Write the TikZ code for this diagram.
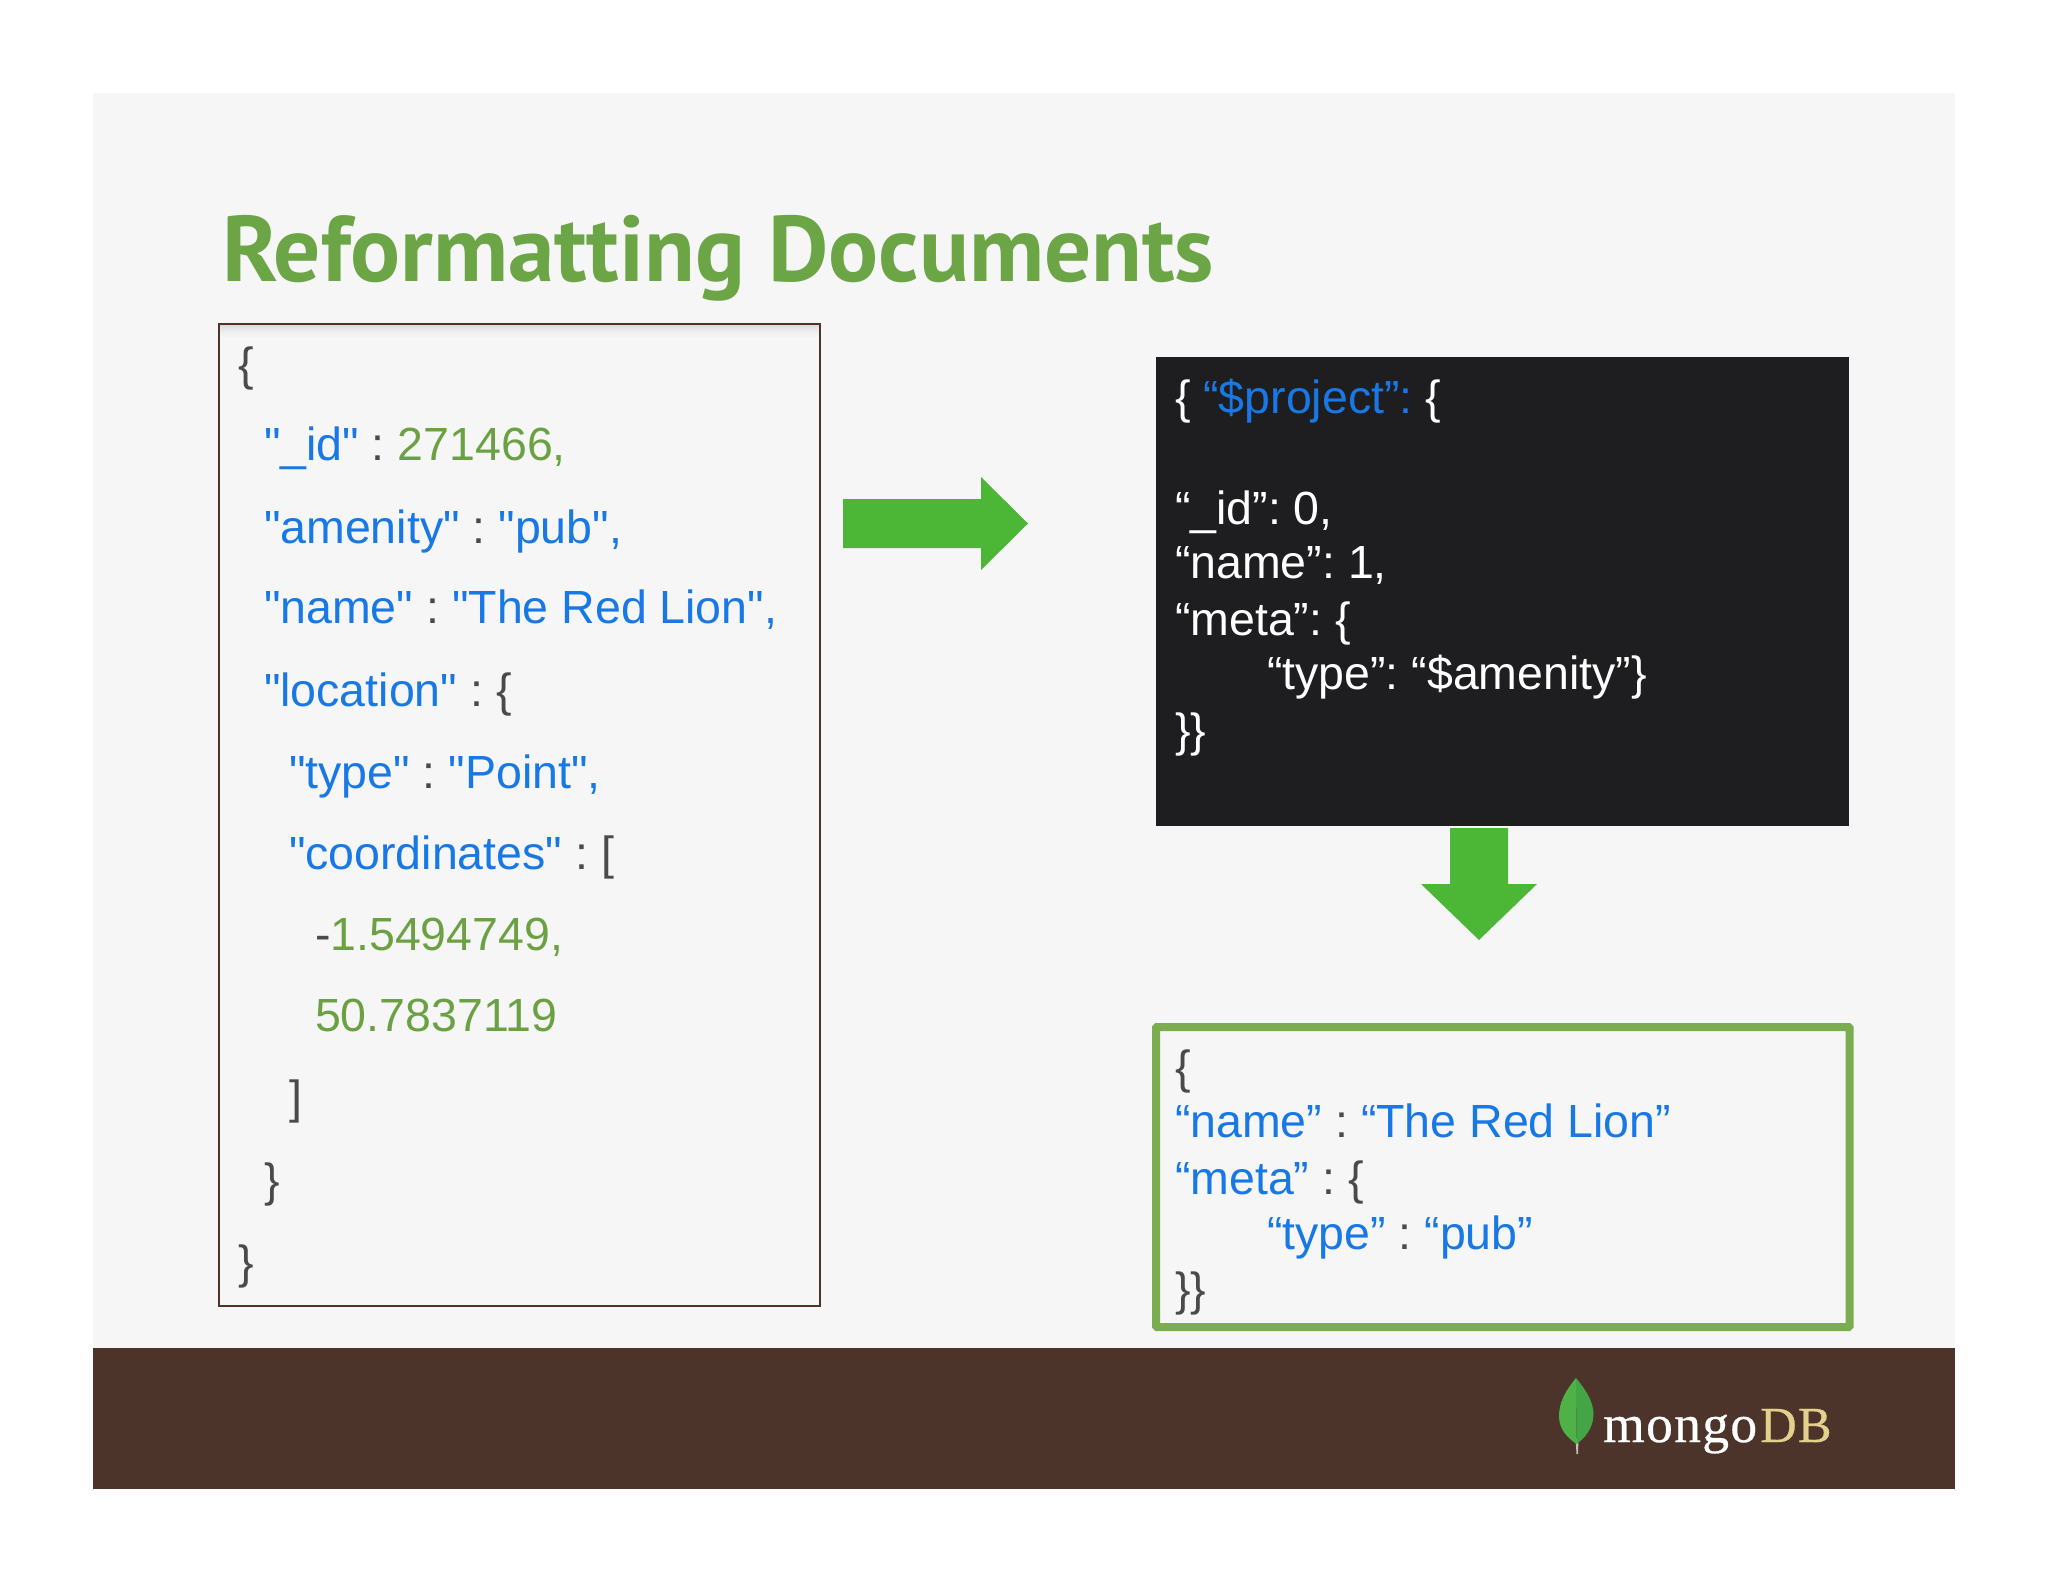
\documentclass[tikz,border=0pt]{standalone}
\usepackage{fontspec}
\setmainfont[Ligatures=TeXOff]{Liberation Sans}
\newfontfamily\titlefont{PT Sans}
\newfontfamily\logofont[LetterSpace=2.5,FakeBold=0.5]{Liberation Serif}
\definecolor{slidebg}{HTML}{F6F6F7}
\definecolor{footbrown}{HTML}{4C342A}
\definecolor{kblue}{HTML}{1878E6}
\definecolor{kgreen}{HTML}{6BA143}
\definecolor{kgray}{HTML}{4A4A4D}
\definecolor{arrowgreen}{HTML}{4CB636}
\definecolor{blackbox}{HTML}{1E1E20}
\definecolor{titlegreen}{HTML}{6CA545}
\definecolor{greenframe}{HTML}{7BAD50}
\definecolor{dbtan}{HTML}{E3D08C}
\definecolor{leafl}{HTML}{4FB248}
\definecolor{leafd}{HTML}{43A546}
\definecolor{stem}{HTML}{C9C2B0}
\newcommand{\kb}[1]{\textcolor{kblue}{#1}}
\newcommand{\kg}[1]{\textcolor{kgreen}{#1}}
\tikzset{
  codeline/.style={anchor=base west,inner sep=0pt,outer sep=0pt,font=\fontsize{46.5}{50}\selectfont\frenchspacing,text=kgray},
  whiteline/.style={codeline,text=white},
  bigarrow/.style={fill=arrowgreen,draw=none}
}
\begin{document}
\begin{tikzpicture}[x=1pt,y=-1pt]
\useasboundingbox (0,0) rectangle (2048,1582);
\fill[white] (0,0) rectangle (2048,1582);
\fill[slidebg] (93,93) rectangle (1955,1348);
\fill[footbrown] (93,1348) rectangle (1955,1489);
\node[anchor=base west,inner sep=0pt,text=titlegreen,font=\titlefont\bfseries\fontsize{93.2}{100}\selectfont] (title) at (222,281) {Reformatting Documents};
% left box
\foreach \i/\o in {1/.10,2/.07,3/.05,4/.03,5/.02,6/.01}{
  \fill[black,opacity=\o] (219,325+\i*2-2) rectangle (820,325+\i*2);
}
\draw[draw=footbrown,line width=2pt] (219,324) rectangle (820,1306);
\node[codeline] (l1) at (238,380) {\{};
\node[codeline] (l2) at (264,460) {\kb{"\_id"} : \kg{271466,}};
\node[codeline] (l3) at (264,543) {\kb{"amenity"} : \kb{"pub",}};
\node[codeline] (l4) at (264,623) {\kb{"name"} : \kb{"The Red Lion",}};
\node[codeline] (l5) at (264,706) {\kb{"location"} : \{};
\node[codeline] (l6) at (289,788) {\kb{"type"} : \kb{"Point",}};
\node[codeline] (l7) at (289,869) {\kb{"coordinates"} : [};
\node[codeline] (l8) at (315,950) {-\kg{1.5494749,}};
\node[codeline] (l9) at (315,1031) {\kg{50.7837119}};
\node[codeline] (l10) at (289,1113) {]};
\node[codeline] (l11) at (264,1196) {\}};
\node[codeline] (l12) at (238,1278) {\}};
% arrows
\fill[bigarrow] (843,499) -- (981,499) -- (981,477) -- (1028,523.5) -- (981,570) -- (981,548) -- (843,548) -- cycle;
\fill[blackbox] (1156,357) rectangle (1849,826);
\fill[bigarrow] (1450,828) -- (1508,828) -- (1508,884) -- (1537,884) -- (1479,940) -- (1421,884) -- (1450,884) -- cycle;
% black box text
\node[whiteline] (b1) at (1175,413) {\{ \kb{“\$project”:} \{};
\node[whiteline] (b2) at (1175,524) {“\_id”: 0,};
\node[whiteline] (b3) at (1175,578) {“name”: 1,};
\node[whiteline] (b4) at (1175,635) {“meta”: \{};
\node[whiteline] (b5) at (1267,689) {“type”: “\$amenity”\}};
\node[whiteline] (b6) at (1175,746) {\}\}};
% green box
\draw[draw=greenframe,line width=8pt,rounded corners=1pt] (1156,1027) rectangle (1849.5,1327);
\node[codeline] (g1) at (1175,1083) {\{};
\node[codeline] (g2) at (1175,1137) {\kb{“name”} : \kb{“The Red Lion”}};
\node[codeline] (g3) at (1175,1194) {\kb{“meta”} : \{};
\node[codeline] (g4) at (1267,1249) {\kb{“type”} : \kb{“pub”}};
\node[codeline] (g5) at (1175,1305) {\}\}};
% logo
\fill[stem] (1575.5,1438) -- (1578.5,1438) -- (1578,1454) -- (1576.5,1454) -- cycle;
\fill[leafl] (1576,1378) .. controls (1566,1390) and (1559,1402) .. (1559,1416) .. controls (1559,1430) and (1568,1438) .. (1576.5,1444) -- cycle;
\fill[leafd] (1576,1378) .. controls (1586,1390) and (1593.5,1402) .. (1593.5,1414) .. controls (1593.5,1428) and (1585,1438) .. (1576.5,1444) -- cycle;
\node[anchor=base west,inner sep=0pt,text=white,font=\logofont\fontsize{53.5}{60}\selectfont] (mongo) at (1603,1442) {mongo};
\node[anchor=base west,inner sep=0pt,text=dbtan,font=\logofont\fontsize{50.5}{60}\selectfont] (db) at (1760,1442) {DB};
\end{tikzpicture}
\end{document}
